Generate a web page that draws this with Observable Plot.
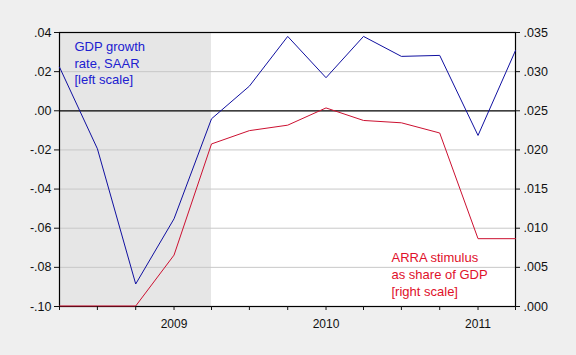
<!DOCTYPE html>
<html><head><meta charset="utf-8">
<script src="https://cdn.jsdelivr.net/npm/d3@7"></script>
<script src="https://cdn.jsdelivr.net/npm/@observablehq/plot@0.6"></script>
<style>
html,body{margin:0;padding:0;background:#efefef;}
#chart svg{display:block;}
</style>
</head><body><div id="chart"></div>
<script>
const quarters = ["2008-04-01","2008-07-01","2008-10-01","2009-01-01","2009-04-01","2009-07-01","2009-10-01","2010-01-01","2010-04-01","2010-07-01","2010-10-01","2011-01-01","2011-04-01"];
const gdpGrowth = [0.0223,-0.0194,-0.0885,-0.0552,-0.0041,0.0126,0.0380,0.0169,0.0380,0.0278,0.0283,-0.0126,0.0308];
const arraShare = [0,0,0,0.0065,0.0207,0.0224,0.0231,0.0253,0.0237,0.0234,0.0221,0.0086,0.0086];
const leftTicks = [-0.10,-0.08,-0.06,-0.04,-0.02,0.00,0.02,0.04];
const rightTicks = [0,0.005,0.010,0.015,0.020,0.025,0.030,0.035];
const yearLabels = ["2009","2010","2011"];
const recession = {start:"2008-04-01", end:"2009-04-01"};
const blueLabel = ["GDP growth","rate, SAAR","[left scale]"];
const redLabel = ["ARRA stimulus","as share of GDP","[right scale]"];

const parse = d3.utcParse("%Y-%m-%d");
const dates = quarters.map(parse);
const yMin = -0.10, yMax = 0.04, rMin = 0, rMax = 0.035;
const toLeft = v => yMin + (v - rMin) * (yMax - yMin) / (rMax - rMin);
const blueData = dates.map((d,i)=>({date:d, v:gdpGrowth[i]}));
const redData = dates.map((d,i)=>({date:d, v:toLeft(arraShare[i])}));
const fmt = v => { const s = v.toFixed(2).replace("0.", "."); return s === "-.00" ? ".00" : s; };
const fmtR = v => v.toFixed(3).replace("0.", ".");
const yearSet = new Set(yearLabels);

const font = "Liberation Sans, Arial, sans-serif";
const chart = Plot.plot({
  width: 576, height: 355,
  marginLeft: 59, marginRight: 61, marginTop: 32, marginBottom: 49,
  style: {background: "#efefef", fontFamily: font, fontSize: "12px", color: "#111"},
  x: {type: "utc", domain: [dates[0], dates[dates.length-1]]},
  y: {domain: [yMin, yMax]},
  marks: [
    Plot.frame({fill: "white"}),
    Plot.rect([recession], {x1: d => parse(d.start), x2: d => parse(d.end), y1: yMin, y2: yMax, fill: "#e6e6e6"}),
    Plot.gridY(leftTicks.filter(t => t !== 0 && t !== yMin && t !== yMax), {stroke: "#c8c8c8", strokeOpacity: 1}),
    Plot.ruleY([0], {stroke: "black", strokeWidth: 1.2}),
    Plot.frame({stroke: "black", strokeWidth: 1.2}),
    Plot.line(redData, {x: "date", y: "v", stroke: "#cc1030", strokeWidth: 1, dy: -0.5}),
    Plot.line(blueData, {x: "date", y: "v", stroke: "#1010a0", strokeWidth: 1}),
    Plot.axisY(leftTicks, {anchor: "left", tickFormat: fmt, tickSize: 5, tickPadding: 3, fontSize: 12.5, label: null}),
    Plot.axisY(rightTicks.map(toLeft), {anchor: "right", tickFormat: (v,i) => fmtR(rightTicks[i]), tickSize: 4, tickPadding: 4, fontSize: 12.5, label: null}),
    Plot.axisX(dates, {anchor: "bottom", tickSize: 4, tickFormat: () => "", label: null}),
    Plot.axisX(dates.filter(d => yearSet.has(String(d.getUTCFullYear())) && d.getUTCMonth() === 0), {anchor: "bottom", tickSize: 0, tickPadding: 13, tickFormat: d => String(d.getUTCFullYear()), fontSize: 12, label: null}),
    Plot.text([blueLabel.join("\n")], {frameAnchor: "top-left", dx: 15, dy: 7, text: d => d, fill: "#2020d0", fontSize: 13, lineHeight: 1.27, textAnchor: "start"}),
    Plot.text([redLabel.join("\n")], {frameAnchor: "bottom-left", dx: 332, dy: -11, text: d => d, fill: "#e0102a", fontSize: 13, lineHeight: 1.27, textAnchor: "start"})
  ]
});
document.getElementById("chart").appendChild(chart);
</script></body></html>
